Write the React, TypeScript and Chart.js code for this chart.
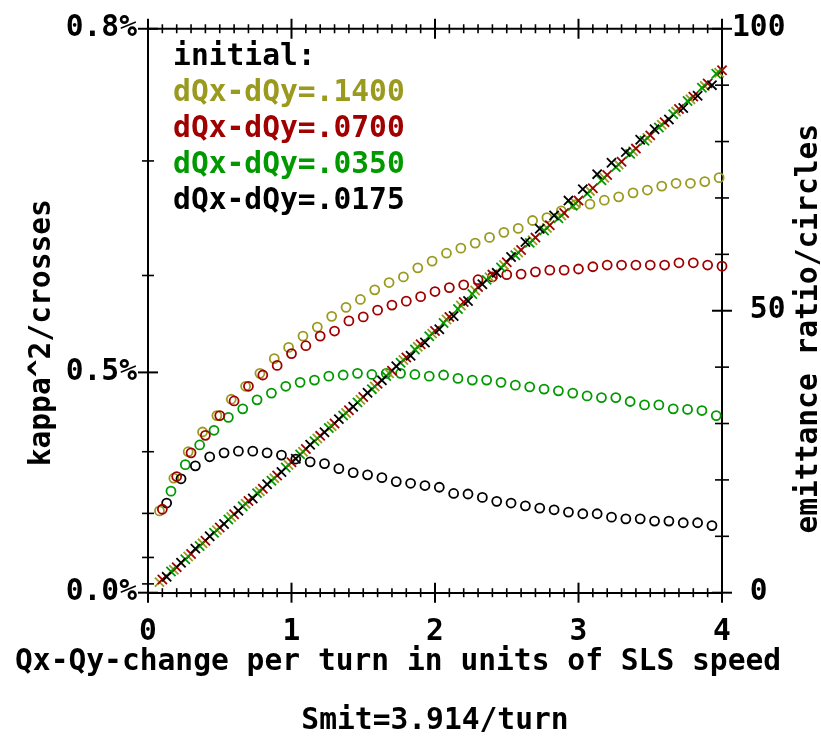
import { useEffect, useRef } from "react";
import { Chart, registerables } from "chart.js";

Chart.register(...registerables);

const FONT = '"DejaVu Sans Mono", "Liberation Mono", monospace';
const FS = 29.6;

// ---- text ----
const leftTitle = "kappa^2/crosses";
const rightTitle = "emittance ratio/circles";
const xTitle = "Qx-Qy-change per turn in units of SLS speed";
const bottomNote = "Smit=3.914/turn";
const legendTexts = ["initial:", "dQx-dQy=.1400", "dQx-dQy=.0700", "dQx-dQy=.0350", "dQx-dQy=.0175"];

// ---- tick labels ----
const xTickLabels = [0, 1, 2, 3, 4];
const kappaTickLabels = [0.0, 0.5, 0.8]; // left axis, in % (axis is linear in kappa^2)
const kappaMinorTicks = [0.1, 0.2, 0.3, 0.4, 0.6, 0.7];
const ratioTickLabels = [0, 50, 100];

// ---- colours ----
const OLIVE = "#9a9a1e";
const RED = "#a00000";
const GREEN = "#009a00";
const BLACK = "#000000";
const legendColors = [BLACK, OLIVE, RED, GREEN, BLACK];

// ---- x values (Qx-Qy change per turn / SLS speed) ----
const oliveX = [0.08, 0.18, 0.28, 0.38, 0.48, 0.58, 0.68, 0.78, 0.88, 0.98, 1.08, 1.18, 1.28, 1.38, 1.48, 1.58, 1.68, 1.78, 1.88, 1.98, 2.08, 2.18, 2.28, 2.38, 2.48, 2.58, 2.68, 2.78, 2.88, 2.98, 3.08, 3.18, 3.28, 3.38, 3.48, 3.58, 3.68, 3.78, 3.88, 3.98];
const redX = [0.1, 0.2, 0.3, 0.4, 0.5, 0.6, 0.7, 0.8, 0.9, 1.0, 1.1, 1.2, 1.3, 1.4, 1.5, 1.6, 1.7, 1.8, 1.9, 2.0, 2.1, 2.2, 2.3, 2.4, 2.5, 2.6, 2.7, 2.8, 2.9, 3.0, 3.1, 3.2, 3.3, 3.4, 3.5, 3.6, 3.7, 3.8, 3.9, 4.0];
const greenX = [0.16, 0.26, 0.36, 0.46, 0.56, 0.66, 0.76, 0.86, 0.96, 1.06, 1.16, 1.26, 1.36, 1.46, 1.56, 1.66, 1.76, 1.86, 1.96, 2.06, 2.16, 2.26, 2.36, 2.46, 2.56, 2.66, 2.76, 2.86, 2.96, 3.06, 3.16, 3.26, 3.36, 3.46, 3.56, 3.66, 3.76, 3.86, 3.96];
const blackX = [0.13, 0.23, 0.33, 0.43, 0.53, 0.63, 0.73, 0.83, 0.93, 1.03, 1.13, 1.23, 1.33, 1.43, 1.53, 1.63, 1.73, 1.83, 1.93, 2.03, 2.13, 2.23, 2.33, 2.43, 2.53, 2.63, 2.73, 2.83, 2.93, 3.03, 3.13, 3.23, 3.33, 3.43, 3.53, 3.63, 3.73, 3.83, 3.93];

// ---- emittance ratio (circles, right axis) ----
const oliveRatio = [14.5, 20.3, 25.0, 28.5, 31.4, 34.3, 36.6, 38.9, 41.5, 43.5, 45.5, 47.1, 49.0, 50.6, 52.0, 53.7, 55.0, 56.0, 57.6, 58.8, 60.2, 61.1, 62.0, 63.0, 63.9, 64.6, 66.0, 66.5, 67.7, 68.8, 68.9, 69.6, 70.2, 70.9, 71.4, 72.1, 72.6, 72.6, 72.9, 73.6];
const redRatio = [14.8, 20.6, 24.8, 27.9, 31.4, 34.0, 36.6, 38.6, 40.3, 42.4, 43.8, 45.5, 46.4, 48.2, 48.9, 50.1, 51.0, 51.7, 52.5, 53.4, 54.1, 54.6, 55.5, 56.0, 56.4, 56.5, 56.9, 57.2, 57.2, 57.4, 57.8, 58.1, 58.1, 58.1, 58.1, 58.1, 58.5, 58.5, 58.1, 57.9];
const greenRatio = [18.0, 22.7, 26.2, 28.8, 31.1, 32.6, 34.2, 35.4, 36.6, 37.3, 37.7, 38.4, 38.6, 38.9, 38.7, 38.9, 38.9, 38.7, 38.4, 38.6, 38.0, 37.7, 37.7, 37.3, 36.8, 36.5, 36.1, 35.8, 35.4, 34.9, 34.6, 34.6, 33.9, 33.3, 33.3, 32.6, 32.5, 32.3, 31.4];
const blackRatio = [15.9, 20.2, 22.5, 24.1, 24.8, 25.1, 25.1, 24.8, 24.4, 23.7, 23.2, 22.9, 22.0, 21.3, 20.9, 20.4, 19.7, 19.4, 19.0, 18.7, 17.6, 17.5, 16.9, 16.2, 15.9, 15.4, 15.0, 14.7, 14.3, 14.0, 14.0, 13.4, 13.1, 13.1, 12.7, 12.7, 12.4, 12.4, 11.9];

// ---- kappa^2 in %^2 (crosses, left axis) ----
const oliveKappa2 = [0.012, 0.026, 0.041, 0.056, 0.071, 0.086, 0.101, 0.115, 0.130, 0.145, 0.160, 0.175, 0.189, 0.204, 0.219, 0.234, 0.249, 0.264, 0.279, 0.294, 0.310, 0.326, 0.343, 0.358, 0.372, 0.386, 0.400, 0.414, 0.428, 0.442, 0.456, 0.471, 0.486, 0.501, 0.516, 0.531, 0.546, 0.560, 0.575, 0.590];
const redKappa2 = [0.015, 0.029, 0.044, 0.059, 0.074, 0.089, 0.104, 0.118, 0.133, 0.148, 0.163, 0.178, 0.192, 0.207, 0.222, 0.237, 0.252, 0.267, 0.282, 0.297, 0.313, 0.330, 0.347, 0.361, 0.375, 0.389, 0.403, 0.417, 0.431, 0.445, 0.459, 0.474, 0.489, 0.504, 0.519, 0.534, 0.549, 0.563, 0.578, 0.593];
const greenKappa2 = [0.024, 0.038, 0.053, 0.068, 0.083, 0.098, 0.113, 0.127, 0.142, 0.157, 0.172, 0.187, 0.201, 0.216, 0.231, 0.246, 0.261, 0.276, 0.291, 0.306, 0.322, 0.339, 0.355, 0.369, 0.383, 0.397, 0.411, 0.425, 0.439, 0.453, 0.468, 0.483, 0.498, 0.513, 0.528, 0.543, 0.558, 0.573, 0.589];
const blackKappa2 = [0.018, 0.034, 0.050, 0.064, 0.078, 0.093, 0.107, 0.123, 0.137, 0.152, 0.168, 0.182, 0.197, 0.211, 0.227, 0.241, 0.257, 0.269, 0.284, 0.299, 0.314, 0.331, 0.350, 0.363, 0.381, 0.398, 0.413, 0.428, 0.445, 0.458, 0.475, 0.488, 0.500, 0.514, 0.526, 0.537, 0.550, 0.564, 0.576];

const pts = (xs: number[], ys: number[]) => xs.map((x, i) => ({ x, y: ys[i] }));

const crosses = (label: string, xs: number[], ys: number[], color: string) => ({
  label,
  data: pts(xs, ys),
  yAxisID: "y",
  showLine: false,
  clip: false,
  pointStyle: "crossRot",
  pointRadius: 6.5,
  pointBorderWidth: 1.8,
  pointBorderColor: color,
  pointBackgroundColor: color,
});

const circles = (label: string, xs: number[], ys: number[], color: string) => ({
  label,
  data: pts(xs, ys),
  yAxisID: "y2",
  showLine: false,
  clip: false,
  pointStyle: "circle",
  pointRadius: 4.5,
  pointBorderWidth: 1.8,
  pointBorderColor: color,
  pointBackgroundColor: "rgba(0,0,0,0)",
});

const tickFont = { family: FONT, size: FS, weight: "bold" as const };

const framePlugin = {
  id: "frameTicks",
  afterDraw(chart: any) {
    const { ctx, chartArea: a, scales } = chart;
    const sx = scales.x;
    const sy = scales.y;
    const sr = scales.y2;
    ctx.save();
    ctx.strokeStyle = "#000";
    const seg = (x1: number, y1: number, x2: number, y2: number, w: number) => {
      ctx.lineWidth = w;
      ctx.beginPath();
      ctx.moveTo(x1, y1);
      ctx.lineTo(x2, y2);
      ctx.stroke();
    };
    // top frame line
    seg(a.left - 1, a.top, a.right + 1, a.top, 2);
    // x ticks (top and bottom), every 0.1, long at integers
    for (let i = 0; i <= 40; i++) {
      const px = sx.getPixelForValue(i / 10);
      const major = i % 10 === 0;
      const L = major ? 10 : 4.5;
      const w = major ? 2 : 1.6;
      seg(px, a.bottom - L, px, a.bottom + L, w);
      seg(px, a.top - L, px, a.top + L, w);
    }
    // left ticks: kappa steps of 0.1 %
    kappaTickLabels.forEach((k) => {
      const py = sy.getPixelForValue(k * k);
      seg(a.left - 10, py, a.left + 10, py, 2);
    });
    kappaMinorTicks.forEach((k) => {
      const py = sy.getPixelForValue(k * k);
      seg(a.left - 6, py, a.left + 6, py, 1.6);
    });
    // right ticks every 10
    for (let i = 0; i <= 10; i++) {
      const py = sr.getPixelForValue(i * 10);
      const major = i % 5 === 0;
      const L = major ? 10 : 7;
      seg(a.right - L, py, a.right + L, py, major ? 2 : 1.6);
    }
    // axis titles (both read bottom-to-top)
    ctx.fillStyle = "#000";
    ctx.font = `bold ${FS}px ${FONT}`;
    ctx.textAlign = "center";
    ctx.textBaseline = "alphabetic";
    const midY = (a.top + a.bottom) / 2;
    ctx.save();
    ctx.translate(a.left - 98.5, midY + 22);
    ctx.rotate(-Math.PI / 2);
    ctx.fillText(leftTitle, 0, 0);
    ctx.restore();
    ctx.save();
    ctx.translate(a.right + 95, midY + 18);
    ctx.rotate(-Math.PI / 2);
    ctx.fillText(rightTitle, 0, 0);
    ctx.restore();
    ctx.restore();
  },
};

export default function App() {
  const ref = useRef<HTMLCanvasElement>(null);

  useEffect(() => {
    if (!ref.current) return;
    Chart.defaults.font.family = FONT;
    const chart = new Chart(ref.current, {
      type: "scatter",
      data: {
        datasets: [
          crosses("kappa^2 .0175", blackX, blackKappa2, BLACK),
          crosses("kappa^2 .0350", greenX, greenKappa2, GREEN),
          crosses("kappa^2 .0700", redX, redKappa2, RED),
          crosses("kappa^2 .1400", oliveX, oliveKappa2, OLIVE),
          circles("ratio .0700", redX, redRatio, RED),
          circles("ratio .0175", blackX, blackRatio, BLACK),
          circles("ratio .0350", greenX, greenRatio, GREEN),
          circles("ratio .1400", oliveX, oliveRatio, OLIVE),
        ] as any,
      },
      options: {
        responsive: false,
        animation: false,
        events: [],
        layout: { padding: { left: 15, top: 20, right: 0, bottom: 0 } },
        scales: {
          x: {
            type: "linear",
            position: "bottom",
            min: 0,
            max: 4,
            grid: { display: false, drawTicks: false },
            border: { display: true, color: "#000", width: 2 },
            afterBuildTicks: (s: any) => {
              s.ticks = xTickLabels.map((v) => ({ value: v }));
            },
            afterFit: (s: any) => {
              s.height = 55;
            },
            ticks: {
              color: "#000",
              font: tickFont,
              padding: 22,
              maxRotation: 0,
              autoSkip: false,
              callback: (v: any) => String(v),
            },
          },
          y: {
            type: "linear",
            position: "left",
            min: 0,
            max: 0.8 * 0.8,
            grid: { display: false, drawTicks: false },
            border: { display: true, color: "#000", width: 2 },
            afterBuildTicks: (s: any) => {
              s.ticks = kappaTickLabels.map((k) => ({ value: k * k }));
            },
            afterFit: (s: any) => {
              s.width = 133;
            },
            ticks: {
              color: "#000",
              font: tickFont,
              padding: 11,
              autoSkip: false,
              callback: (v: any) => Math.sqrt(Number(v)).toFixed(1) + "%",
            },
          },
          y2: {
            type: "linear",
            position: "right",
            min: 0,
            max: 100,
            grid: { display: false, drawTicks: false },
            border: { display: true, color: "#000", width: 2 },
            afterBuildTicks: (s: any) => {
              s.ticks = ratioTickLabels.map((v) => ({ value: v }));
            },
            afterFit: (s: any) => {
              s.width = 99;
            },
            ticks: {
              color: "#000",
              font: tickFont,
              padding: 10,
              autoSkip: false,
              callback: (v: any) => (Number(v) < 100 ? " " + v : String(v)),
            },
          },
        },
        plugins: {
          tooltip: { enabled: false },
          legend: {
            display: true,
            position: "chartArea" as any,
            align: "start",
            onClick: () => {},
            title: {
              display: true,
              text: " ",
              font: { family: FONT, size: 36.5, lineHeight: 1 },
              padding: 0,
            },
            labels: {
              boxWidth: 4,
              boxHeight: 0,
              padding: 6.3,
              font: { family: FONT, size: FS, weight: "bold" },
              generateLabels: () =>
                legendTexts.map((t, i) => ({
                  text: t,
                  fontColor: legendColors[i],
                  fillStyle: "rgba(0,0,0,0)",
                  strokeStyle: "rgba(0,0,0,0)",
                  lineWidth: 0,
                  hidden: false,
                  datasetIndex: i,
                })),
            },
          },
          subtitle: {
            display: true,
            position: "bottom",
            align: "start",
            fullSize: true,
            text: xTitle,
            color: "#000",
            font: { family: FONT, size: FS, weight: "bold", lineHeight: 1 },
            padding: { top: 0, bottom: 9.5 },
          },
          title: {
            display: true,
            position: "bottom",
            align: "center",
            fullSize: false,
            text: bottomNote,
            color: "#000",
            font: { family: FONT, size: FS, weight: "bold", lineHeight: 1 },
            padding: { top: 19.6, bottom: 0 },
          },
        },
      } as any,
      plugins: [framePlugin],
    });
    return () => chart.destroy();
  }, []);

  return (
    <div style={{ position: "absolute", left: 0, top: 0, width: 821, height: 736, background: "#fff" }}>
      <canvas ref={ref} width={821} height={736} style={{ display: "block", width: 821, height: 736 }} />
    </div>
  );
}
